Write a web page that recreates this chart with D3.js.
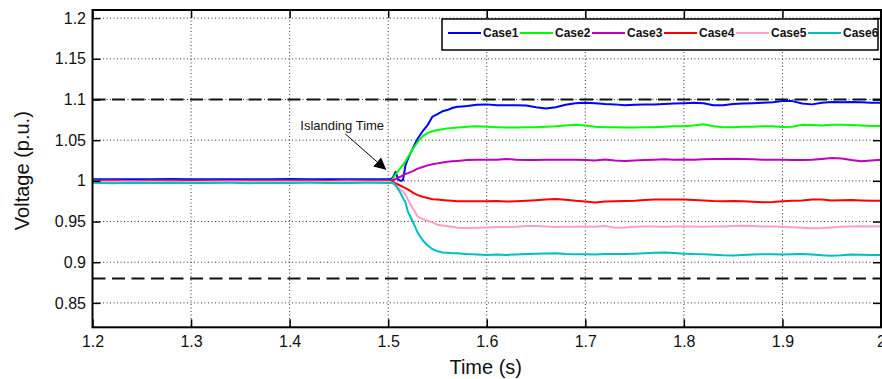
<!DOCTYPE html>
<html>
<head>
<meta charset="utf-8">
<script src="https://cdnjs.cloudflare.com/ajax/libs/d3/7.8.5/d3.min.js"></script>
<style>
  body { margin: 0; background: #fff; }
  svg { display: block; font-family: Arial, "Liberation Sans", sans-serif; }
</style>
</head>
<body>
<div id="chart"></div>
<script>
// sample times (s): coarse before islanding, fine during transient, 10 ms after
var time = [1.20,1.22,1.24,1.26,1.28,1.30,1.32,1.34,1.36,1.38,1.40,1.42,1.44,1.46,1.48,1.50,
  1.5025,1.505,1.5075,1.51,1.5125,1.515,1.5175,1.52,1.525,1.53,1.535,1.54,1.545,1.55,1.555,1.56,1.565,1.57,1.575,1.58,1.59,1.60,
  1.61,1.62,1.63,1.64,1.65,1.66,1.67,1.68,1.69,1.70,1.71,1.72,1.73,1.74,1.75,1.76,1.77,1.78,1.79,1.80,
  1.81,1.82,1.83,1.84,1.85,1.86,1.87,1.88,1.89,1.90,1.91,1.92,1.93,1.94,1.95,1.96,1.97,1.98,1.99,2.00];

var case1 = [1.0020,1.0021,1.0019,1.0020,1.0022,1.0020,1.0019,1.0021,1.0020,1.0020,1.0022,1.0019,1.0020,1.0021,1.0020,1.0020,
  1.0020,1.0045,1.0110,1.0020,1.0000,1.0008,1.0190,1.0270,1.0400,1.0520,1.0610,1.0685,1.0790,1.0820,1.0855,1.0870,1.0895,1.0910,1.0915,1.0920,1.0935,1.0940,
  1.0930,1.0930,1.0930,1.0925,1.0905,1.0890,1.0905,1.0935,1.0955,1.0960,1.0955,1.0945,1.0940,1.0930,1.0935,1.0940,1.0940,1.0945,1.0950,1.0955,
  1.0960,1.0955,1.0930,1.0930,1.0945,1.0950,1.0955,1.0960,1.0965,1.0980,1.0980,1.0950,1.0940,1.0960,1.0970,1.0965,1.0970,1.0965,1.0960,1.0960];
var case2 = [1.0000,1.0001,0.9999,1.0000,1.0001,1.0000,1.0000,0.9999,1.0001,1.0000,1.0000,1.0001,0.9999,1.0000,1.0000,1.0000,
  1.0000,1.0030,1.0080,1.0120,1.0160,1.0195,1.0240,1.0290,1.0390,1.0480,1.0550,1.0590,1.0610,1.0625,1.0635,1.0645,1.0650,1.0655,1.0660,1.0665,1.0670,1.0665,
  1.0660,1.0655,1.0655,1.0660,1.0660,1.0665,1.0670,1.0680,1.0690,1.0680,1.0665,1.0660,1.0660,1.0655,1.0657,1.0660,1.0660,1.0665,1.0670,1.0670,
  1.0680,1.0695,1.0670,1.0658,1.0660,1.0665,1.0665,1.0670,1.0670,1.0662,1.0665,1.0690,1.0685,1.0680,1.0690,1.0690,1.0685,1.0680,1.0675,1.0675];
var case3 = [0.9999,1.0000,0.9998,0.9999,1.0000,0.9999,0.9998,1.0000,0.9999,0.9999,1.0000,0.9998,0.9999,1.0000,0.9999,0.9999,
  1.0000,1.0010,1.0020,1.0040,1.0050,1.0070,1.0085,1.0095,1.0120,1.0150,1.0170,1.0190,1.0205,1.0215,1.0225,1.0235,1.0240,1.0245,1.0250,1.0255,1.0260,1.0258,
  1.0260,1.0270,1.0260,1.0255,1.0255,1.0258,1.0260,1.0258,1.0260,1.0255,1.0250,1.0262,1.0250,1.0243,1.0250,1.0255,1.0260,1.0265,1.0260,1.0262,
  1.0260,1.0265,1.0268,1.0270,1.0272,1.0270,1.0265,1.0260,1.0260,1.0258,1.0255,1.0255,1.0260,1.0270,1.0280,1.0275,1.0255,1.0240,1.0250,1.0260];
var case4 = [0.9995,0.9994,0.9996,0.9995,0.9994,0.9995,0.9996,0.9995,0.9994,0.9995,0.9995,0.9996,0.9994,0.9995,0.9995,0.9995,
  0.9995,0.9985,0.9970,0.9955,0.9940,0.9925,0.9910,0.9895,0.9855,0.9825,0.9805,0.9790,0.9775,0.9770,0.9765,0.9760,0.9755,0.9750,0.9750,0.9748,0.9748,0.9750,
  0.9752,0.9745,0.9750,0.9755,0.9762,0.9770,0.9778,0.9768,0.9755,0.9745,0.9735,0.9745,0.9750,0.9752,0.9755,0.9765,0.9770,0.9772,0.9770,0.9772,
  0.9765,0.9760,0.9752,0.9750,0.9752,0.9748,0.9742,0.9738,0.9740,0.9750,0.9755,0.9760,0.9770,0.9770,0.9760,0.9762,0.9765,0.9760,0.9755,0.9755];
var case5 = [0.9990,0.9988,0.9991,0.9989,0.9990,0.9987,0.9990,0.9991,0.9988,0.9990,0.9989,0.9990,0.9988,0.9991,0.9990,0.9990,
  0.9985,0.9970,0.9940,0.9915,0.9890,0.9870,0.9830,0.9770,0.9660,0.9560,0.9530,0.9510,0.9490,0.9460,0.9450,0.9443,0.9435,0.9425,0.9420,0.9420,0.9425,0.9428,
  0.9432,0.9432,0.9435,0.9445,0.9445,0.9440,0.9432,0.9435,0.9435,0.9438,0.9435,0.9445,0.9425,0.9428,0.9435,0.9440,0.9438,0.9435,0.9438,0.9440,
  0.9438,0.9435,0.9438,0.9440,0.9445,0.9448,0.9445,0.9440,0.9438,0.9435,0.9430,0.9425,0.9418,0.9420,0.9428,0.9435,0.9440,0.9442,0.9440,0.9442];
var case6 = [0.9978,0.9972,0.9976,0.9974,0.9977,0.9973,0.9975,0.9976,0.9972,0.9975,0.9974,0.9976,0.9973,0.9975,0.9977,0.9975,
  0.9975,0.9970,0.9945,0.9900,0.9850,0.9790,0.9735,0.9620,0.9500,0.9360,0.9270,0.9205,0.9160,0.9135,0.9120,0.9115,0.9110,0.9110,0.9105,0.9100,0.9095,0.9090,
  0.9095,0.9090,0.9095,0.9100,0.9105,0.9108,0.9110,0.9102,0.9098,0.9098,0.9095,0.9100,0.9102,0.9100,0.9105,0.9110,0.9115,0.9120,0.9112,0.9105,
  0.9100,0.9098,0.9092,0.9085,0.9082,0.9088,0.9095,0.9098,0.9098,0.9095,0.9098,0.9100,0.9095,0.9085,0.9080,0.9085,0.9095,0.9092,0.9088,0.9088];

var caseNames = ["Case1", "Case2", "Case3", "Case4", "Case5", "Case6"];
var caseColors = ["#0000ff", "#00ff00", "#bf00bf", "#ff0000", "#ff9ecb", "#00bfbf"];
var limits = [1.1, 0.88];
var xTicks = [1.2, 1.3, 1.4, 1.5, 1.6, 1.7, 1.8, 1.9, 2.0];
var yTicks = [0.85, 0.9, 0.95, 1, 1.05, 1.1, 1.15, 1.2];
var islandingTime = 1.5;

var series = [case1, case2, case3, case4, case5, case6];

// Setup
var width = 882, height = 379;
var plotLeft = 92.5, plotRight = 881, plotTop = 10, plotBottom = 327.3;

var svg = d3.select("#chart")
    .append("svg")
    .attr("width", width)
    .attr("height", height);

var x = d3.scaleLinear().domain([1.2, 2.0]).range([plotLeft, plotRight]);
var y = d3.scaleLinear().domain([0.82, 1.21]).range([plotBottom, plotTop]);

svg.append("clipPath")
    .attr("id", "plot-clip")
  .append("rect")
    .attr("x", plotLeft).attr("y", plotTop)
    .attr("width", plotRight - plotLeft).attr("height", plotBottom - plotTop);

// Grid (dotted)
svg.append("g")
    .attr("class", "grid")
    .selectAll("line.gx")
    .data(xTicks.slice(1, -1))
  .enter().append("line")
    .attr("x1", function(d){ return x(d); })
    .attr("x2", function(d){ return x(d); })
    .attr("y1", plotTop)
    .attr("y2", plotBottom)
    .attr("stroke", "#333")
    .attr("stroke-width", 1)
    .attr("stroke-dasharray", "1,2.5");

svg.append("g")
    .attr("class", "grid")
    .selectAll("line.gy")
    .data(yTicks)
  .enter().append("line")
    .attr("x1", plotLeft)
    .attr("x2", plotRight)
    .attr("y1", function(d){ return y(d); })
    .attr("y2", function(d){ return y(d); })
    .attr("stroke", "#333")
    .attr("stroke-width", 1)
    .attr("stroke-dasharray", "1,2.5");

// Limit lines (dashed)
svg.append("g")
    .selectAll("line")
    .data(limits)
  .enter().append("line")
    .attr("x1", plotLeft)
    .attr("x2", plotRight)
    .attr("y1", function(d){ return y(d); })
    .attr("y2", function(d){ return y(d); })
    .attr("stroke", "#111")
    .attr("stroke-width", 1.8)
    .attr("stroke-dasharray", "13,6.5");

// Data lines
var line = d3.line()
    .x(function(d, i){ return x(time[i]); })
    .y(function(d){ return y(d); });

svg.append("g")
    .attr("clip-path", "url(#plot-clip)")
    .selectAll("path")
    .data(series)
  .enter().append("path")
    .attr("d", line)
    .attr("fill", "none")
    .attr("stroke", function(d, i){ return caseColors[i]; })
    .attr("stroke-width", 2)
    .attr("stroke-linejoin", "round");

// Axes: ticks inside on all four sides
var tickLen = 8;
var xAxis = d3.axisBottom(x).tickValues(xTicks).tickSize(-tickLen).tickPadding(14)
    .tickFormat(function(d){ return d3.format("~g")(d); });
var yAxis = d3.axisLeft(y).tickValues(yTicks).tickSize(-tickLen).tickPadding(14)
    .tickFormat(function(d){ return d3.format("~g")(d); });

var gx = svg.append("g")
    .attr("transform", "translate(0," + plotBottom + ")")
    .call(xAxis);
var gy = svg.append("g")
    .attr("transform", "translate(" + plotLeft + ",0)")
    .call(yAxis);
svg.append("g")
    .attr("transform", "translate(0," + plotTop + ")")
    .call(d3.axisTop(x).tickValues(xTicks).tickSize(-tickLen).tickFormat(""));
svg.append("g")
    .attr("transform", "translate(" + plotRight + ",0)")
    .call(d3.axisRight(y).tickValues(yTicks).tickSize(-tickLen).tickFormat(""));

svg.selectAll(".domain").remove();
svg.selectAll(".tick line").attr("stroke", "#000").attr("stroke-width", 1.5);
gx.selectAll("text").attr("font-size", 16).attr("fill", "#111").attr("y", 8).attr("dy", "0.71em");
gy.selectAll("text").attr("font-size", 16).attr("fill", "#111").attr("x", -6.5);

// Frame
svg.append("rect")
    .attr("x", plotLeft).attr("y", plotTop)
    .attr("width", plotRight - plotLeft).attr("height", plotBottom - plotTop)
    .attr("fill", "none")
    .attr("stroke", "#000")
    .attr("stroke-width", 2);

// Axis titles
svg.append("text")
    .attr("x", (plotLeft + plotRight) / 2 - 1)
    .attr("y", 374)
    .attr("text-anchor", "middle")
    .attr("font-size", 20)
    .attr("fill", "#111")
    .text("Time (s)");

svg.append("text")
    .attr("transform", "translate(29," + ((plotTop + plotBottom) / 2 + 2) + ") rotate(-90)")
    .attr("text-anchor", "middle")
    .attr("font-size", 20)
    .attr("fill", "#111")
    .text("Voltage (p.u.)");

// Islanding annotation
var defs = svg.append("defs");
defs.append("marker")
    .attr("id", "arrowhead")
    .attr("viewBox", "0 0 10 10")
    .attr("refX", 10).attr("refY", 5)
    .attr("markerWidth", 12).attr("markerHeight", 12)
    .attr("markerUnits", "userSpaceOnUse")
    .attr("orient", "auto")
  .append("path")
    .attr("d", "M0,0 L10,5 L0,10 Z")
    .attr("fill", "#000");

svg.append("line")
    .attr("x1", x(islandingTime) - 43).attr("y1", y(1.0) - 47)
    .attr("x2", x(islandingTime) - 2).attr("y2", y(1.0) - 11)
    .attr("stroke", "#000")
    .attr("stroke-width", 1)
    .attr("marker-end", "url(#arrowhead)");

svg.append("text")
    .attr("x", x(islandingTime) - 46)
    .attr("y", y(1.0) - 55)
    .attr("text-anchor", "middle")
    .attr("dominant-baseline", "central")
    .attr("font-size", 13)
    .attr("fill", "#111")
    .text("Islanding Time");

// Legend
var legend = svg.append("g").attr("class", "legend");
legend.append("rect")
    .attr("x", 442).attr("y", 19)
    .attr("width", 436).attr("height", 31)
    .attr("fill", "#fff")
    .attr("stroke", "#000")
    .attr("stroke-width", 1.5);

var items = legend.selectAll("g.item")
    .data(caseNames)
  .enter().append("g")
    .attr("class", "item")
    .attr("transform", function(d, i){ return "translate(" + (448 + 72 * i) + ",33)"; });

items.append("line")
    .attr("x1", 0).attr("x2", 33)
    .attr("stroke", function(d, i){ return caseColors[i]; })
    .attr("stroke-width", 2);

items.append("text")
    .attr("x", 35)
    .attr("dominant-baseline", "central")
    .attr("font-size", 12)
    .attr("font-weight", "bold")
    .attr("fill", "#111")
    .text(function(d){ return d; });
</script>
</body>
</html>
